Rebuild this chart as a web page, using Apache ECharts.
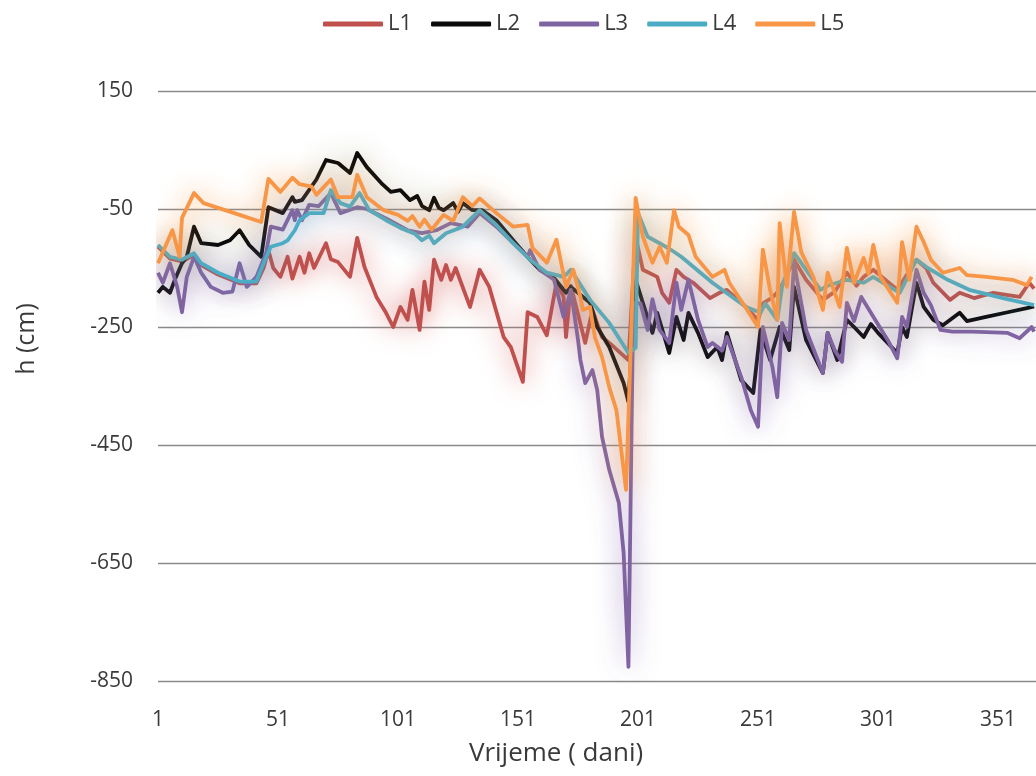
<!DOCTYPE html>
<html>
<head>
<meta charset="utf-8">
<script src="https://cdn.jsdelivr.net/npm/echarts@6/dist/echarts.min.js"></script>
<style>html,body{margin:0;padding:0;background:#fff}#c{width:1036px;height:776px}</style>
</head>
<body>
<div id="c"></div>
<script>
const seriesNames = ['L1','L2','L3','L4','L5'];
const xTicks = [1,51,101,151,201,251,301,351];
const yTicks = [-850,-650,-450,-250,-50,150];

const l1Day = [1,6,11,16,19,26,35,42,45,47,49,52,55,57,60,62,64,66,71,73,76,81,84,87,92,96,99,102,105,107,110,112,114,116,119,121,123,125,131,135,139,145,148,153,155,159,163,167,170,171,173,179,182,186,191,197,200,203,209,211,214,217,220,224,231,235,238,246,251,253,257,260,266,271,278,283,288,292,295,299,309,317,321,324,331,335,341,349,360,364,366];
const l1H   = [-114,-134,-139,-128,-145,-161,-176,-176,-150,-120,-150,-165,-131,-168,-131,-158,-125,-150,-108,-135,-140,-165,-99,-148,-199,-226,-250,-216,-238,-187,-255,-173,-221,-136,-170,-145,-170,-150,-216,-153,-182,-267,-284,-343,-225,-233,-264,-175,-199,-267,-180,-277,-221,-267,-284,-306,-97,-153,-165,-192,-209,-153,-165,-175,-201,-192,-187,-216,-238,-210,-200,-187,-136,-170,-204,-190,-158,-180,-165,-153,-187,-136,-150,-175,-204,-192,-201,-192,-199,-175,-185];

const l2Day = [1,3,6,8,11,13,16,19,26,31,35,39,44,47,53,57,58,61,67,71,76,81,84,88,94,98,102,106,109,111,114,116,118,120,124,126,128,132,136,142,149,156,160,166,171,173,181,184,189,195,197,200,203,207,209,214,217,220,222,226,230,234,236,238,244,249,252,256,260,264,266,271,278,280,284,288,291,295,298,301,309,311,313,317,320,324,328,335,338,346,355,363,366];
const l2H   = [-192,-182,-192,-170,-142,-131,-80,-108,-111,-103,-86,-111,-131,-47,-57,-30,-38,-35,0,33,28,11,45,21,-6,-21,-18,-35,-28,-45,-52,-31,-48,-52,-40,-55,-40,-52,-52,-69,-103,-136,-153,-167,-192,-182,-209,-250,-284,-345,-377,-170,-209,-260,-226,-294,-233,-272,-226,-260,-301,-284,-306,-260,-340,-362,-255,-306,-250,-289,-182,-272,-328,-260,-306,-238,-250,-267,-245,-260,-294,-250,-267,-175,-216,-238,-247,-226,-240,-233,-225,-218,-215];

const l3Day = [1,3,6,9,11,13,16,19,23,28,32,35,38,42,46,48,53,57,58,59,61,64,68,73,77,84,88,96,105,111,117,123,130,135,142,149,155,156,160,166,170,173,176,177,179,182,184,186,189,193,195,197,199,202,205,207,210,214,217,219,222,226,230,232,236,238,244,248,251,253,257,259,261,264,266,271,278,280,283,286,288,291,294,298,305,309,311,313,317,320,323,327,332,340,355,360,365,366];
const l3H   = [-158,-175,-142,-182,-225,-165,-131,-158,-182,-192,-190,-142,-182,-165,-125,-80,-85,-52,-69,-52,-69,-43,-45,-23,-57,-47,-50,-66,-86,-91,-86,-74,-80,-57,-80,-108,-131,-120,-153,-170,-233,-187,-272,-306,-345,-323,-357,-436,-492,-548,-633,-826,-209,-210,-255,-203,-255,-277,-175,-221,-170,-238,-284,-277,-290,-267,-335,-391,-419,-250,-318,-369,-243,-272,-142,-255,-328,-260,-290,-309,-209,-240,-199,-226,-272,-303,-233,-250,-153,-192,-213,-255,-258,-258,-260,-269,-250,-258];

const l4Day = [1,6,11,16,19,26,35,42,45,48,53,55,58,60,64,70,73,77,81,85,89,96,102,108,111,114,116,121,128,135,142,149,156,163,170,173,181,189,197,200,201,205,210,215,219,232,246,252,254,259,261,266,268,277,280,288,295,299,310,317,321,330,339,353,366];
const l4H   = [-111,-131,-136,-125,-142,-158,-173,-173,-142,-114,-108,-103,-86,-69,-57,-57,-18,-40,-46,-23,-52,-69,-82,-92,-103,-95,-108,-91,-80,-52,-77,-108,-136,-158,-165,-153,-204,-243,-294,-285,-57,-97,-108,-120,-131,-175,-216,-226,-210,-238,-182,-125,-136,-187,-180,-170,-175,-165,-192,-136,-148,-170,-187,-201,-213];

const l5Day = [1,7,10,11,16,20,35,44,47,52,57,60,65,67,73,76,82,84,88,95,101,105,107,110,112,115,118,120,124,128,132,135,142,149,155,157,163,167,171,174,177,178,181,183,186,189,192,196,200,203,207,210,213,216,218,222,225,232,237,239,246,251,253,256,259,260,263,266,269,274,278,280,285,288,291,295,297,299,302,309,311,314,317,320,323,328,335,338,346,357,363,365];
const l5H   = [-142,-86,-131,-65,-23,-40,-60,-72,1,-21,3,-8,-12,-26,0,-30,-30,8,-30,-52,-60,-70,-62,-80,-68,-85,-70,-60,-70,-30,-45,-32,-57,-80,-77,-116,-141,-102,-182,-153,-199,-221,-216,-267,-301,-352,-391,-526,-31,-97,-141,-114,-141,-52,-80,-94,-131,-165,-153,-175,-218,-250,-119,-187,-238,-74,-182,-55,-123,-165,-221,-158,-216,-116,-175,-133,-160,-111,-165,-209,-106,-170,-80,-106,-136,-158,-150,-162,-165,-170,-179,-165];

const colors = ['#C0504D','#0a0a0a','#8064A2','#4BACC6','#F79646'];
const glows = ['rgba(210,90,85,0.85)','rgba(90,90,40,0.45)','rgba(140,110,180,0.85)','rgba(75,172,198,0.8)','rgba(250,150,60,0.95)'];
const days = [l1Day,l2Day,l3Day,l4Day,l5Day];
const vals = [l1H,l2H,l3H,l4H,l5H];

const chart = echarts.init(document.getElementById('c'));
const FONT = '"Open Sans", "Noto Sans", sans-serif';
const TXT = '#3a3a3a';
chart.setOption({
  animation: false,
  color: colors,
  legend: {
    top: 8, left: 318,
    itemWidth: 60, itemHeight: 5, itemGap: 19,
    icon: 'roundRect',
    textStyle: {fontFamily: FONT, fontSize: 22, color: TXT},
    data: seriesNames
  },
  grid: {left: 158, right: 0, top: 91, bottom: 95, containLabel: false},
  xAxis: {
    type: 'value', min: 1, max: 366.8,
    axisLine: {show: false}, axisTick: {show: false, customValues: xTicks},
    splitLine: {show: false},
    axisLabel: {customValues: xTicks, margin: 29, fontFamily: FONT, fontSize: 21, color: TXT}
  },
  yAxis: {
    type: 'value', min: -850, max: 150,
    axisLine: {show: false}, axisTick: {show: false, customValues: yTicks},
    splitLine: {show: true, lineStyle: {color: '#8a8a8a', width: 1.3}},
    axisLabel: {customValues: yTicks, margin: 25, fontFamily: FONT, fontSize: 21, color: TXT}
  },
  graphic: [{
    type: 'text', x: 556, y: 754,
    style: {text: 'Vrijeme ( dani)', fontFamily: FONT, fontSize: 26, fill: TXT, align: 'center', verticalAlign: 'middle'}
  },{
    type: 'text', x: 27, y: 339, rotation: Math.PI / 2,
    style: {text: 'h (cm)', fontFamily: FONT, fontSize: 25, fill: TXT, align: 'center', verticalAlign: 'middle'}
  }],
  series: seriesNames.map((n, i) => ({
    name: n, type: 'line', showSymbol: false, symbol: 'none',
    data: days[i].map((d, j) => [d, vals[i][j]]),
    lineStyle: {width: 3.8, color: colors[i], shadowColor: glows[i], shadowBlur: 26, join: 'round'},
    z: 2 + i
  }))
});
</script>
</body>
</html>
